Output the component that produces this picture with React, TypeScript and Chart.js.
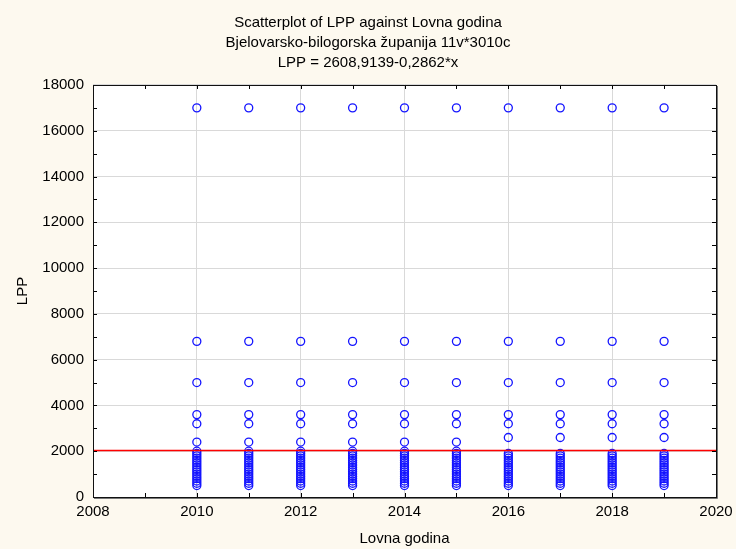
import React, { useEffect, useRef } from "react";
import { Chart, registerables } from "chart.js";

Chart.register(...registerables);

const titleLines = [
  "Scatterplot of LPP against Lovna godina",
  "Bjelovarsko-bilogorska županija 11v*3010c",
  "LPP = 2608,9139-0,2862*x",
];
const xAxisTitle = "Lovna godina";
const yAxisTitle = "LPP";

const years = [2010, 2011, 2012, 2013, 2014, 2015, 2016, 2017, 2018, 2019];
// values shared by every year
const highValues = [17000, 6800, 5000, 3600, 3200];
// one isolated value per year (2400 for 2010-2015, 2600 for 2016-2019)
const midValues = [2400, 2400, 2400, 2400, 2400, 2400, 2600, 2600, 2600, 2600];
// dense cluster values
const denseEarly = [2000, 1900, 1800, 1700, 1600, 1500, 1400, 1300, 1200, 1100, 1000, 900, 800, 700, 600, 500];
const denseLate = [1900, 1800, 1700, 1600, 1500, 1400, 1300, 1200, 1100, 1000, 900, 800, 700, 600, 500];
const denseIsLate = [false, false, false, false, false, false, true, true, true, true];

// regression line endpoints (from LPP = 2608,9139-0,2862*x)
const fitX = [2008, 2020];
const fitY = [2034.2, 2030.8];

const xMin = 2008, xMax = 2020, xStep = 2;
const yMin = 0, yMax = 18000, yStep = 2000;

const FONT = "'Liberation Sans', Arial, sans-serif";

const bgPlugin = {
  id: "bgPlugin",
  beforeDraw(chart: any) {
    const { ctx, chartArea: a, width, height } = chart;
    ctx.save();
    ctx.fillStyle = "#fdf9ef";
    ctx.fillRect(0, 0, width, height);
    ctx.fillStyle = "#ffffff";
    ctx.fillRect(a.left, a.top, a.right - a.left, a.bottom - a.top);
    ctx.restore();
  },
  afterDraw(chart: any) {
    const { ctx, chartArea: a, scales } = chart;
    const xs = scales.x, ys = scales.y;
    ctx.save();
    ctx.strokeStyle = "#000";
    ctx.lineWidth = 1;
    ctx.beginPath();
    for (let v = yMin; v <= yMax; v += yStep / 2) {
      const py = Math.round(ys.getPixelForValue(v)) + 0.5;
      ctx.moveTo(a.left, py); ctx.lineTo(a.left + 4, py);
      ctx.moveTo(a.right, py); ctx.lineTo(a.right - 4, py);
    }
    for (let v = xMin; v <= xMax; v += xStep / 2) {
      const px = Math.round(xs.getPixelForValue(v)) + 0.5;
      ctx.moveTo(px, a.bottom); ctx.lineTo(px, a.bottom - 4);
      ctx.moveTo(px, a.top); ctx.lineTo(px, a.top + 4);
    }
    ctx.stroke();
    // frame
    ctx.strokeStyle = "#111";
    ctx.strokeRect(Math.round(a.left) + 0.5, Math.round(a.top) + 0.5, Math.round(a.right - a.left), Math.round(a.bottom - a.top));
    ctx.strokeStyle = "#777";
    ctx.beginPath();
    ctx.moveTo(Math.round(a.left) + 1, Math.round(a.bottom) + 1.5);
    ctx.lineTo(Math.round(a.right) + 1.5, Math.round(a.bottom) + 1.5);
    ctx.lineTo(Math.round(a.right) + 1.5, Math.round(a.top) + 1);
    ctx.stroke();
    ctx.restore();
  },
};

export default function App() {
  const ref = useRef<HTMLCanvasElement>(null);
  useEffect(() => {
    document.body.style.margin = "0";
    const points: { x: number; y: number }[] = [];
    years.forEach((yr, i) => {
      highValues.forEach((v) => points.push({ x: yr, y: v }));
      points.push({ x: yr, y: midValues[i] });
      (denseIsLate[i] ? denseLate : denseEarly).forEach((v) => points.push({ x: yr, y: v }));
    });
    const fit = fitX.map((x, i) => ({ x, y: fitY[i] }));
    const chart = new Chart(ref.current!, {
      type: "scatter",
      data: {
        datasets: [
          {
            type: "scatter",
            data: points,
            pointRadius: 4,
            pointHoverRadius: 4,
            borderWidth: 1.3,
            pointBorderColor: "#1414ff",
            pointBackgroundColor: "rgba(0,0,0,0)",
            order: 2,
          } as any,
          {
            type: "line",
            data: fit,
            borderColor: "#ff0000",
            borderWidth: 1.5,
            pointRadius: 0,
            order: 1,
          } as any,
        ],
      },
      options: {
        animation: false,
        responsive: false,
        devicePixelRatio: 1,
        layout: { padding: 0 },
        plugins: {
          legend: { display: false },
          tooltip: { enabled: false },
          title: {
            display: true,
            text: titleLines,
            color: "#000",
            font: { family: FONT, size: 15, weight: "normal", lineHeight: 1.333 },
            padding: { top: 13, bottom: 12 },
          },
        },
        scales: {
          x: {
            type: "linear",
            min: xMin,
            max: xMax,
            afterFit: (s: any) => { s.height = 52; s.paddingLeft = 0; s.paddingRight = 20; },
            ticks: {
              stepSize: xStep,
              color: "#000",
              padding: 6,
              font: { family: FONT, size: 15 },
              callback: (v: any) => String(v),
            },
            grid: { color: "#d9d9d9", drawTicks: false },
            border: { display: false },
            title: {
              display: true,
              text: xAxisTitle,
              color: "#000",
              font: { family: FONT, size: 15 },
              padding: { top: 0, bottom: 1 },
            },
          },
          y: {
            type: "linear",
            min: yMin,
            max: yMax,
            afterFit: (s: any) => { s.width = 93; s.paddingTop = 0; s.paddingBottom = 0; },
            ticks: {
              stepSize: yStep,
              color: "#000",
              padding: 9,
              font: { family: FONT, size: 15 },
              callback: (v: any) => String(v),
            },
            grid: { color: "#d9d9d9", drawTicks: false },
            border: { display: false },
            title: {
              display: true,
              text: yAxisTitle,
              color: "#000",
              font: { family: FONT, size: 15 },
              padding: { top: 14, bottom: 0 },
            },
          },
        },
      },
      plugins: [bgPlugin],
    });
    return () => chart.destroy();
  }, []);
  return <canvas ref={ref} width={736} height={549} style={{ display: "block" }} />;
}
